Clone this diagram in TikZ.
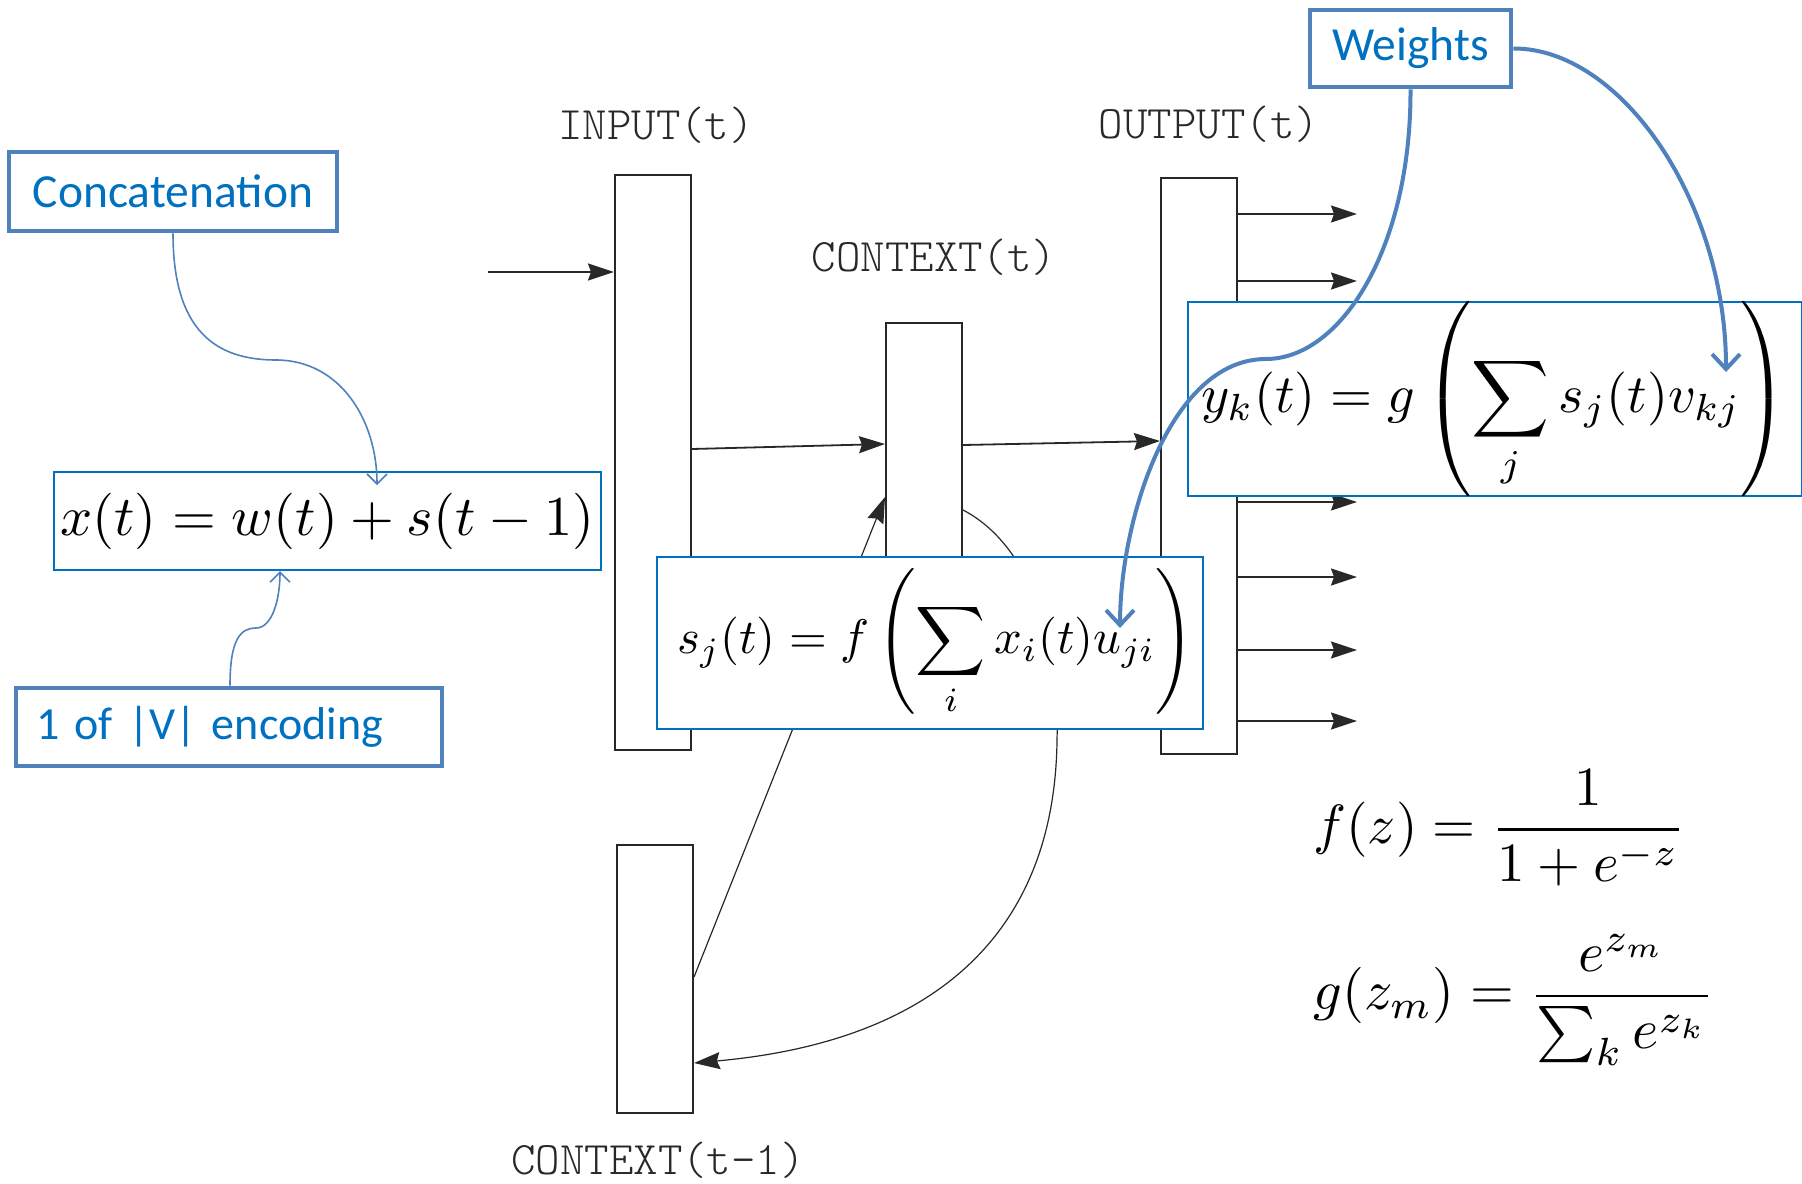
\documentclass[tikz,border=0pt]{standalone}
\usepackage{fontspec}
\usepackage{amsmath}
\usepackage{graphicx}
\usetikzlibrary{arrows.meta}
\newfontfamily\calibri{Carlito}
\definecolor{txtblue}{RGB}{0,112,192}
\definecolor{callblue}{RGB}{79,129,189}
\definecolor{inkgray}{RGB}{40,40,40}
\begin{document}
\begin{tikzpicture}[x=0.5pt,y=-0.5pt,
  layer/.style={draw=inkgray, line width=1pt, fill=white, minimum width=38pt, inner sep=0pt},
  arr/.style={draw=inkgray, line width=0.9pt, -{Stealth[length=13pt,width=8.5pt,inset=1.5pt]}},
  thinarr/.style={draw=inkgray, line width=0.6pt, -{Stealth[length=13pt,width=8.5pt,inset=1.5pt]}},
  lbl/.style={anchor=base, inner sep=0pt, text=inkgray, font=\ttfamily\fontseries{l}\fontsize{23.3}{27}\selectfont},
  formbox/.style={draw=txtblue, line width=1pt, fill=white, inner sep=0pt},
  callout/.style={draw=callblue, line width=2.4pt, fill=white, inner sep=0pt, text=txtblue, font=\calibri\fontsize{23.75}{28}\selectfont},
  wconn/.style={draw=callblue, line width=2pt, -{Straight Barb[length=7.5pt,width=14pt,line width=2pt]}},
  cconn/.style={draw=callblue, line width=0.8pt, -{Straight Barb[length=5pt,width=10pt]}}
]
\useasboundingbox (0,0) rectangle (1802,1183);

% network layers
\node[layer, minimum height=287.5pt] (in) at (653,462.5) {};
\node[layer, minimum height=158.5pt] (ctx) at (924,481.5) {};
\node[layer, minimum height=288pt] (out) at (1199,466) {};
\node[layer, minimum height=134pt] (ctxp) at (655,979) {};

% labels
\node[lbl] (lin) at (656,139) {INPUT(t)};
\node[lbl] (lout) at (1209,138) {OUTPUT(t)};
\node[lbl] (lctx) at (934,271) {CONTEXT(t)};
\node[lbl] (lctxp) at (658,1174) {CONTEXT(t-1)};

% black connectors
\coordinate (src) at (488,272);
\draw[arr] (src) -- (in.west |- 0,272);
\draw[arr] (in.east |- 0,449) -- (ctx.west |- 0,444);
\draw[arr] (ctx.east |- 0,445) -- (out.west |- 0,441);
\foreach \yy in {214,281,354,428,502,577,650,721}{
  \draw[arr] (out.east |- 0,\yy) -- ++(119,0);
}
\draw[thinarr] (ctxp.east |- 0,977) -- (ctx.west |- 0,497);
\draw[thinarr] (ctx.east |- 0,510) .. controls (1030,545) and (1060,640) .. (1057,740)
  .. controls (1055,920) and (950,1040) .. (ctxp.east |- 0,1063);

% formula boxes
\node[formbox, minimum width=273.5pt, minimum height=49pt] (xt) at (327.5,521)
  {\resizebox{267pt}{!}{$x(t)=w(t)+s(t-1)$}};
\node[formbox, minimum width=273pt, minimum height=86pt] (sj) at (929.5,642.5)
  {\hspace*{6pt}\resizebox{258.5pt}{!}{$\displaystyle s_j(t)=f\left(\sum_i x_i(t)u_{ji}\right)$}};
\node[formbox, minimum width=307pt, minimum height=97pt] (yk) at (1494.5,399)
  {\resizebox{293.5pt}{!}{$\displaystyle y_k(t)=g\left(\sum_j s_j(t)v_{kj}\right)$}};
\node[anchor=west, inner sep=0pt] (fz) at (1313,828)
  {\resizebox{186pt}{!}{$\displaystyle f(z)=\frac{1}{1+e^{-z}}$}};
\node[anchor=west, inner sep=0pt] (gz) at (1313,1000)
  {\resizebox{200.5pt}{!}{$\displaystyle g(z_m)=\frac{e^{z_m}}{\sum_k e^{z_k}}$}};

% callouts
\node[callout, minimum width=164pt, minimum height=39.5pt] (concat) at (173,191.5) {Concatenation};
\node[callout, inner xsep=10pt, text width=193pt, align=left, minimum height=39pt,
  font=\calibri\fontsize{23}{28}\selectfont] (enc) at (229,727) {1 of |V| encoding};
\node[callout, minimum width=100.5pt, minimum height=38.5pt] (wts) at (1410.5,48.5) {Weights};

% blue connectors
\coordinate (xtop) at (377,485);
\coordinate (uji) at (1120,628);
\coordinate (vkj) at (1726,372);
\draw[cconn] (concat.south) .. controls (173,330) and (215,360) .. (276,360)
  .. controls (340,360) and (377,420) .. (xtop);
\draw[cconn] (enc.north -| 230,0) .. controls (230,640) and (240,628) .. (256,628)
  .. controls (272,628) and (280,600) .. (xt.south -| 280,0);
\draw[wconn] (wts.south) .. controls (1411,250) and (1340,359) .. (1266,359)
  .. controls (1170,359) and (1120,520) .. (uji);
\draw[wconn] (wts.east) .. controls (1620,48) and (1726,200) .. (vkj);
\end{tikzpicture}
\end{document}
